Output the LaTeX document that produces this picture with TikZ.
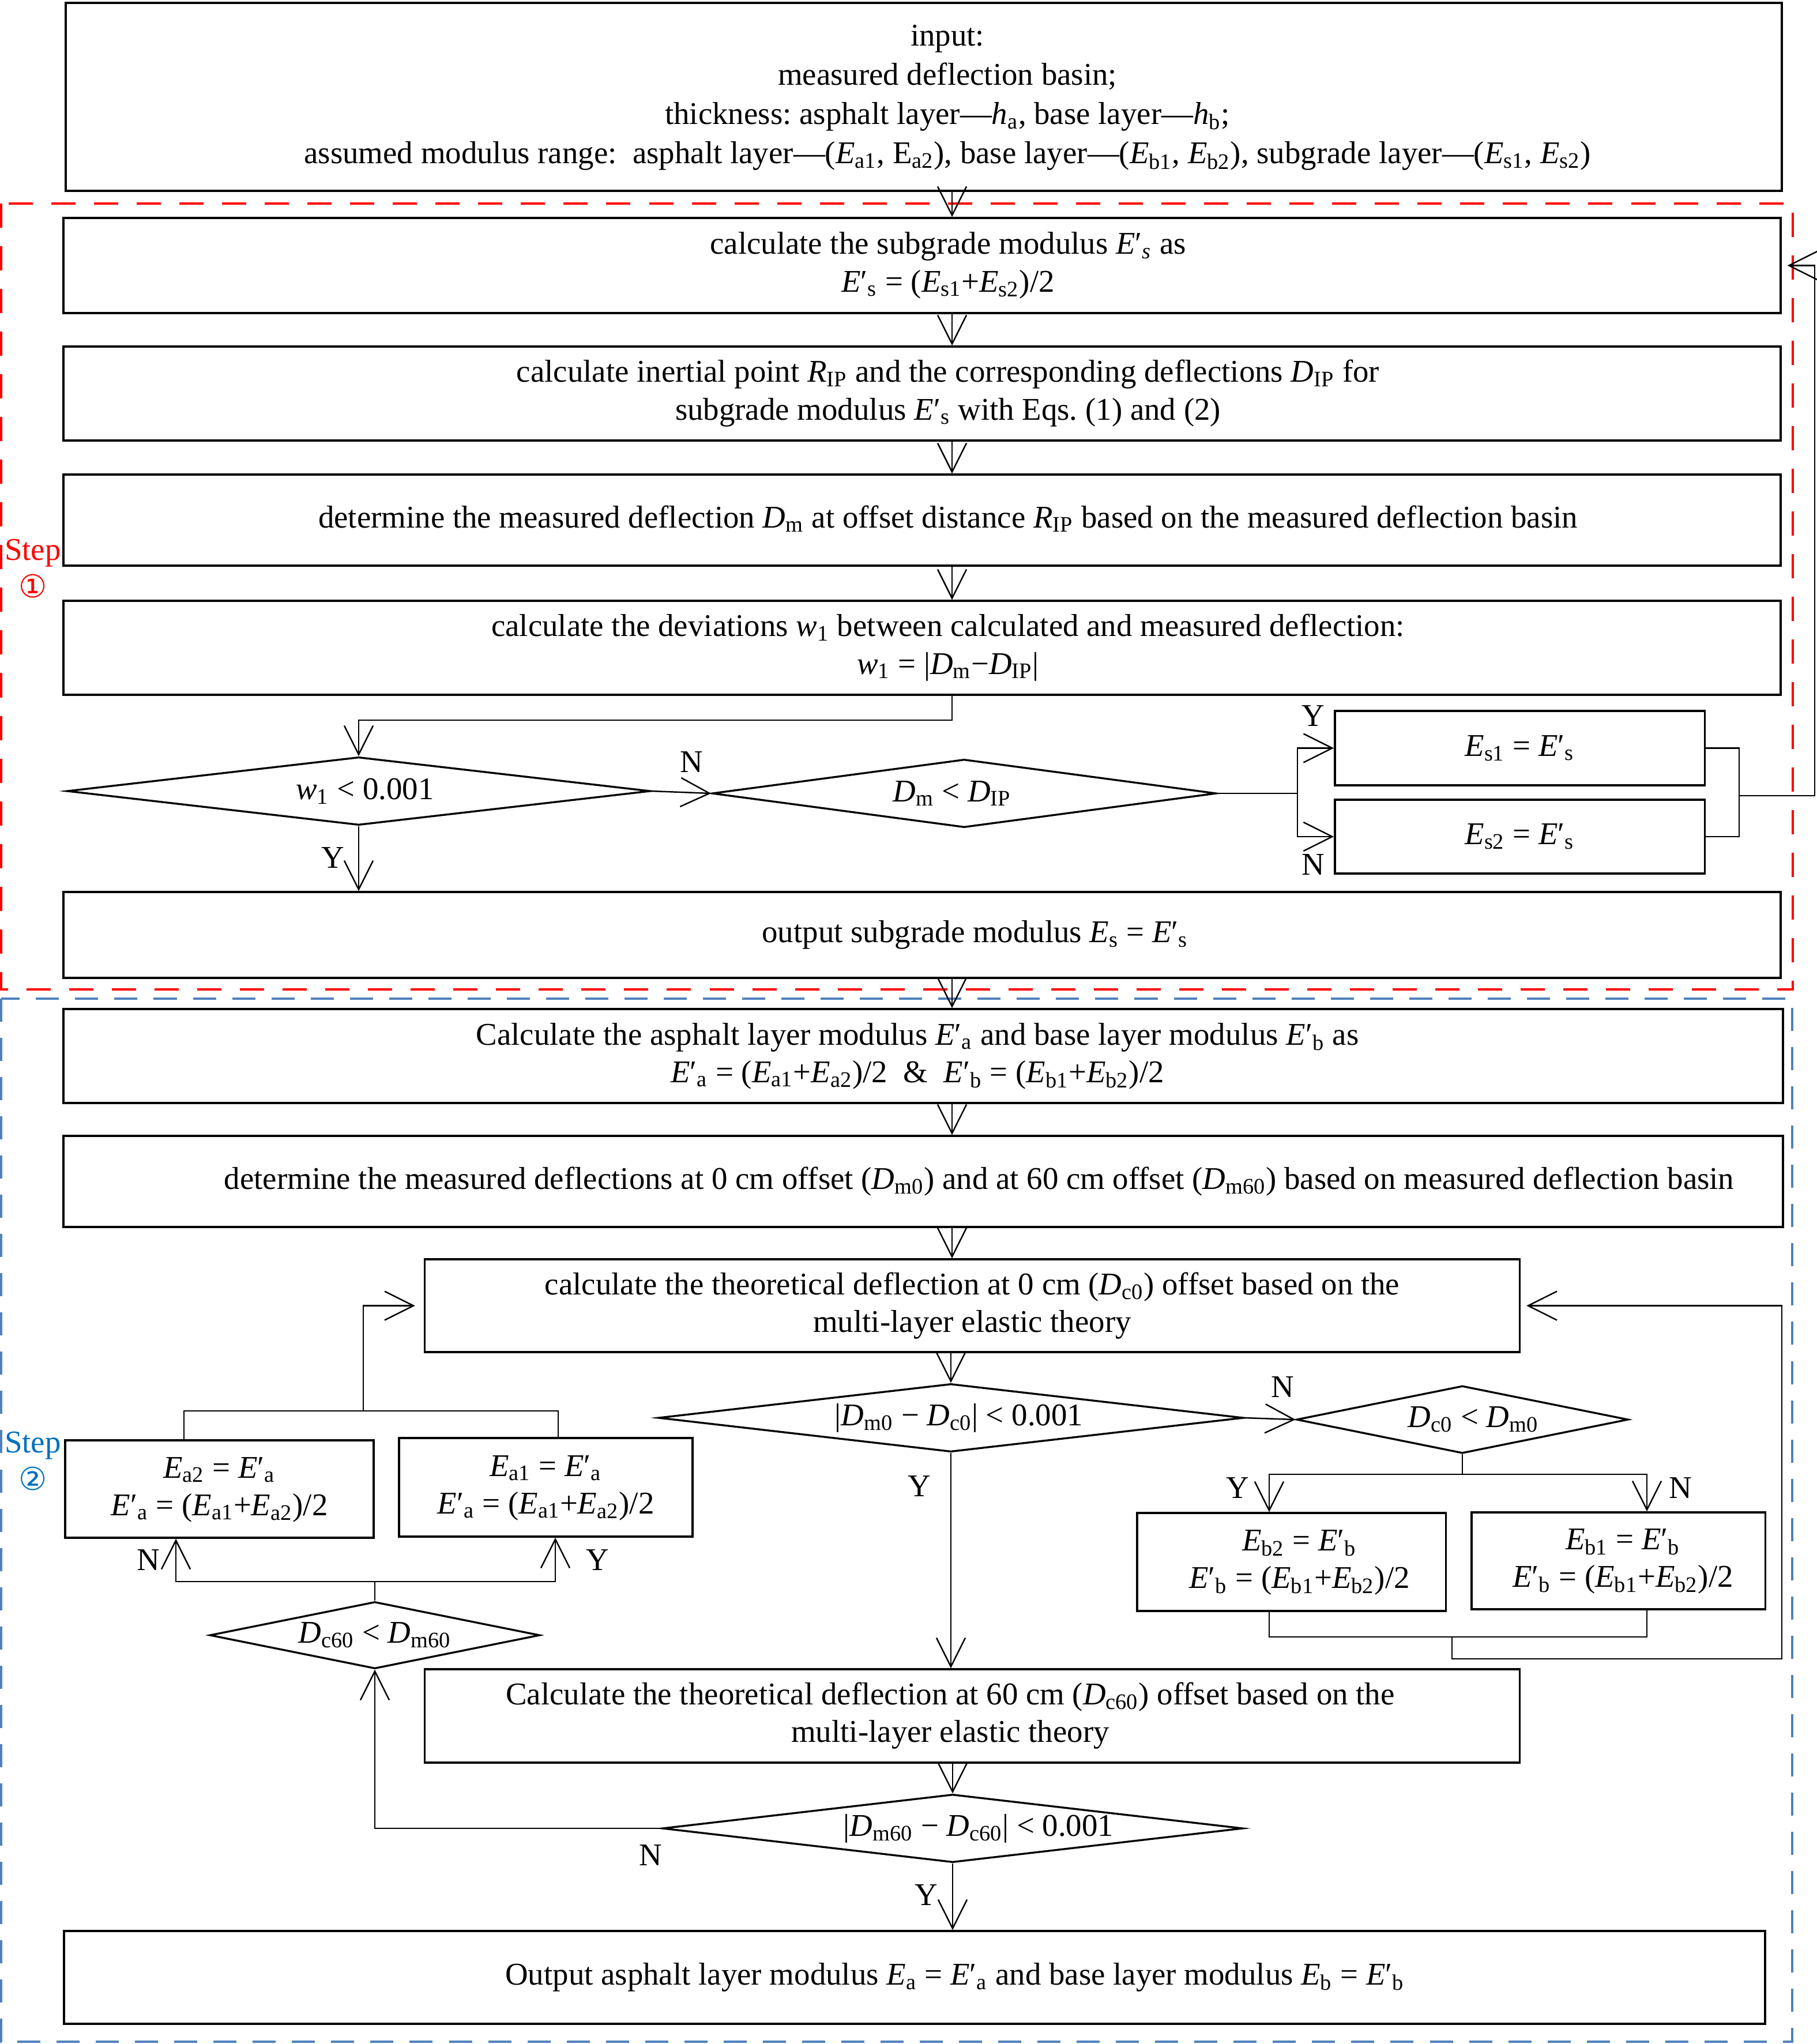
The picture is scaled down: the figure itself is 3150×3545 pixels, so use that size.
\documentclass[tikz,border=0pt]{standalone}
\usepackage{fontspec}
\setmainfont{Liberation Serif}
\newfontfamily\circfont{DejaVu Sans}
\usetikzlibrary{arrows.meta,shapes.geometric}
\definecolor{stepred}{RGB}{255,0,0}
\definecolor{stepblue}{RGB}{0,112,192}
\definecolor{dashblue}{RGB}{79,129,189}
\newcommand{\tx}[2]{\hspace*{#1}\begin{tabular}{@{}c@{}}#2\end{tabular}}
\newcommand{\myv}[2]{\textit{#1}\textsubscript{#2}}
\newcommand{\myp}[2]{\textit{#1}′\textsubscript{#2}}
\tikzset{
  box/.style args={#1/#2}{draw, line width=0.95pt, rectangle, inner sep=0pt, minimum width=#1cm, minimum height=#2cm},
  diam/.style args={#1/#2/#3}{diamond, draw, line width=0.95pt, inner sep=0pt, aspect=#3, minimum width=#1cm, minimum height=#2cm},
  arr/.style={line width=0.7pt, -{Straight Barb[length=5mm,width=5mm]}},
  ln/.style={line width=0.7pt},
  lbl/.style={inner sep=0pt},
}
\frenchspacing
\begin{document}
\begin{tikzpicture}[x=0.01cm, y=-0.01cm, font=\fontsize{15.6}{18.5}\selectfont]
\useasboundingbox (0,0) rectangle (3150,3545);
% dashed step frames
\draw[stepred, line width=0.95pt, dash pattern=on 4.2mm off 3.2mm] (2,353) rectangle (3109,1716);
\draw[dashblue, line width=0.95pt, dash pattern=on 4.0mm off 2.8mm] (2,1732) rectangle (3108,3541);
\node[lbl, text=stepred] (st1) at (57,991) {\begin{tabular}{@{}c@{}}Step\\{\circfont ①}\end{tabular}};
\node[lbl, text=stepblue] (st2) at (57,2539) {\begin{tabular}{@{}c@{}}Step\\{\circfont ②}\end{tabular}};

% ---------- step 1 ----------
\node[box=29.74/3.26, font=\fontsize{15.6}{19.4}\selectfont] (in) at (1602,168) {\tx{0.82cm}{input:\\ measured deflection basin;\\ thickness: asphalt layer—\myv{h}{a}, base layer—\myv{h}{b};\\ assumed modulus range:~ asphalt layer—(\myv{E}{a1}, E\textsubscript{a2}), base layer—(\myv{E}{b1}, \myv{E}{b2}), subgrade layer—(\myv{E}{s1}, \myv{E}{s2})}};
\node[box=29.76/1.65] (s1) at (1599,460.5) {\tx{0.9cm}{calculate the subgrade modulus \textit{E}′\textsubscript{\textit{s}} as\\ \myp{E}{s} = (\myv{E}{s1}+\myv{E}{s2})/2}};
\node[box=29.76/1.63] (s2) at (1599,682.5) {\tx{0.9cm}{calculate inertial point \myv{R}{IP} and the corresponding deflections \myv{D}{IP} for\\ subgrade modulus \myp{E}{s} with Eqs. (1) and (2)}};
\node[box=29.76/1.58] (s3) at (1599,902) {\tx{0.9cm}{determine the measured deflection \myv{D}{m} at offset distance \myv{R}{IP} based on the measured deflection basin}};
\node[box=29.76/1.63] (s4) at (1599,1123.5) {\tx{0.9cm}{calculate the deviations \myv{w}{1} between calculated and measured deflection:\\ \myv{w}{1} = |\myv{D}{m}−\myv{D}{IP}|}};
\node[diam=10.11/1.18/8.6] (d1) at (622,1372) {\hspace*{0.22cm}\myv{w}{1} < 0.001};
\node[diam=8.74/1.18/7.4] (d2) at (1672,1376) {\hspace*{-0.42cm}\myv{D}{m} < \myv{D}{IP}};
\node[box=6.41/1.29] (Es1) at (2635.5,1297.5) {\myv{E}{s1} = \myp{E}{s}};
\node[box=6.41/1.28] (Es2) at (2635.5,1451) {\myv{E}{s2} = \myp{E}{s}};
\node[box=29.76/1.49] (s5) at (1599,1621.5) {\tx{1.84cm}{output subgrade modulus \myv{E}{s} = \myp{E}{s}}};

% ---------- step 2 ----------
\node[box=29.80/1.63] (t1) at (1601,1831.5) {\tx{-0.2cm}{Calculate the asphalt layer modulus \myp{E}{a} and base layer modulus \myp{E}{b} as\\ \myp{E}{a} = (\myv{E}{a1}+\myv{E}{a2})/2~ \&~ \myp{E}{b} = (\myv{E}{b1}+\myv{E}{b2})/2}};
\node[box=29.80/1.58] (t2) at (1601,2049) {\tx{1.94cm}{determine the measured deflections at 0 cm offset (\myv{D}{m0}) and at 60 cm offset (\myv{D}{m60}) based on measured deflection basin}};
\node[box=18.98/1.61] (t3) at (1686,2264.5) {\tx{0cm}{calculate the theoretical deflection at 0 cm (\myv{D}{c0}) offset based on the\\ multi-layer elastic theory}};
\node[diam=10.14/1.18/8.6] (d3) at (1649,2459) {\hspace*{0.28cm}|\myv{D}{m0} − \myv{D}{c0}| < 0.001};
\node[diam=5.75/1.17/4.9] (d4) at (2536,2462) {\hspace*{0.38cm}\myv{D}{c0} < \myv{D}{m0}};
\node[box=5.35/1.69] (Ea2) at (380.5,2582.5) {\tx{0cm}{\myv{E}{a2} = \myp{E}{a}\\ \myp{E}{a} = (\myv{E}{a1}+\myv{E}{a2})/2}};
\node[box=5.09/1.71] (Ea1) at (946.5,2579.5) {\tx{0cm}{\myv{E}{a1} = \myp{E}{a}\\ \myp{E}{a} = (\myv{E}{a1}+\myv{E}{a2})/2}};
\node[box=5.35/1.70] (Eb2) at (2239.5,2709) {\tx{0.28cm}{\myv{E}{b2} = \myp{E}{b}\\ \myp{E}{b} = (\myv{E}{b1}+\myv{E}{b2})/2}};
\node[box=5.09/1.68] (Eb1) at (2806.5,2707) {\tx{0.16cm}{\myv{E}{b1} = \myp{E}{b}\\ \myp{E}{b} = (\myv{E}{b1}+\myv{E}{b2})/2}};
\node[diam=5.72/1.16/4.93] (d5) at (650,2836) {\myv{D}{c60} < \myv{D}{m60}};
\node[box=18.98/1.62] (t4) at (1686,2976) {\tx{-0.76cm}{Calculate the theoretical deflection at 60 cm (\myv{D}{c60}) offset based on the\\ multi-layer elastic theory}};
\node[diam=10.06/1.18/8.4] (d6) at (1652,3171) {\hspace*{0.9cm}|\myv{D}{m60} − \myv{D}{c60}| < 0.001};
\node[box=29.48/1.61] (t5) at (1586,3429.5) {\tx{1.4cm}{Output asphalt layer modulus \myv{E}{a} = \myp{E}{a} and base layer modulus \myv{E}{b} = \myp{E}{b}}};

% ---------- labels ----------
\node[lbl] (lN1) at (1199,1322) {N};
\node[lbl] (lY2) at (2277,1242) {Y};
\node[lbl] (lN2) at (2277,1500) {N};
\node[lbl] (lY1) at (577,1488) {Y};
\node[lbl] (lN3) at (2224,2406) {N};
\node[lbl] (lY3) at (1594,2578) {Y};
\node[lbl] (lY4) at (2146,2581) {Y};
\node[lbl] (lN4) at (2914,2581) {N};
\node[lbl] (lN5) at (257,2706) {N};
\node[lbl] (lY5) at (1036,2706) {Y};
\node[lbl] (lN6) at (1128,3217) {N};
\node[lbl] (lY6) at (1606,3286) {Y};

% ---------- connectors ----------
\coordinate (ax) at (1651,0);
\draw[arr] (in.south -| ax) -- (s1.north -| ax);
\draw[arr] (s1.south -| ax) -- (s2.north -| ax);
\draw[arr] (s2.south -| ax) -- (s3.north -| ax);
\draw[arr] (s3.south -| ax) -- (s4.north -| ax);
\coordinate (j1) at (1651,1249);
\draw[arr] (s4.south -| ax) -- (j1) -| (d1.north);
\draw[arr] (d1.east) -- (d2.west);
\coordinate (j2) at (2250,1376);
\draw[ln] (d2.east) -- (j2);
\draw[arr] (j2) |- (Es1.west);
\draw[arr] (j2) |- (Es2.west);
\coordinate (j3) at (3016,1380);
\coordinate (j4) at (3147,1380);
\draw[ln] (Es1.east) -| (j3);
\draw[ln] (Es2.east) -| (j3);
\draw[arr, shorten >=0.1cm] (j3) -- (j4) |- (s1.east);
\draw[arr] (d1.south) -- (d1.south |- s5.north);
\draw[arr] (s5.south -| ax) -- (t1.north -| ax);
\draw[arr] (t1.south -| ax) -- (t2.north -| ax);
\draw[arr] (t2.south -| ax) -- (t3.north -| ax);
\draw[arr] (t3.south -| d3.north) -- (d3.north);
\draw[arr] (d3.south) -- (d3.south |- t4.north);
\draw[arr] (d3.east) -- (d4.west);
% d4 -> Eb boxes
\coordinate (j5) at (2536,2557);
\coordinate (xb2) at (2201,0);
\coordinate (xb1) at (2856,0);
\draw[ln] (d4.south) -- (j5);
\draw[arr] (j5) -| (Eb2.north -| xb2);
\draw[arr] (j5) -| (Eb1.north -| xb1);
\coordinate (j6) at (2518,2839);
\coordinate (j7) at (3090,2877);
\draw[ln] (Eb2.south -| xb2) |- (j6);
\draw[ln] (Eb1.south -| xb1) |- (j6);
\draw[arr, shorten >=0.1cm] (j6) -- (j6 |- j7) -- (j7) |- (t3.east);
% d5 -> Ea boxes
\coordinate (j8) at (650,2743);
\coordinate (xa2) at (305,0);
\coordinate (xa1) at (963,0);
\draw[ln] (d5.north) -- (j8);
\draw[arr] (j8) -| (Ea2.south -| xa2);
\draw[arr] (j8) -| (Ea1.south -| xa1);
\coordinate (j9) at (630,2447);
\coordinate (xa2t) at (319,0);
\coordinate (xa1t) at (968,0);
\draw[ln] (Ea2.north -| xa2t) |- (j9);
\draw[ln] (Ea1.north -| xa1t) |- (j9);
\draw[arr, shorten >=0.15cm] (j9) |- (t3.west);
\draw[arr] (t4.south -| d6.north) -- (d6.north);
\draw[arr] (d6.west) -| (d5.south);
\draw[arr] (d6.south) -- (d6.south |- t5.north);
\end{tikzpicture}
\end{document}
